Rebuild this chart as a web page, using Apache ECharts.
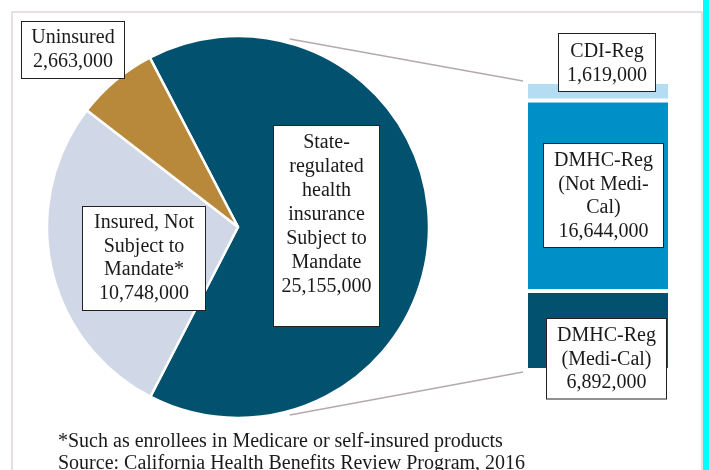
<!DOCTYPE html>
<html><head><meta charset="utf-8">
<script src="https://cdn.jsdelivr.net/npm/echarts@6/dist/echarts.min.js"></script>
<style>html,body{margin:0;padding:0;background:#fff}#c{width:709px;height:470px}</style>
</head><body><div id="c"></div>
<script>
// ---- data ----
const pieNames = ['State-\nregulated\nhealth\ninsurance\nSubject to\nMandate', 'Insured, Not\nSubject to\nMandate*', 'Uninsured'];
const pieValues = [25155000, 10748000, 2663000];
const barNames = ['CDI-Reg', 'DMHC-Reg\n(Not Medi-\nCal)', 'DMHC-Reg\n(Medi-Cal)'];
const barValues = [1619000, 16644000, 6892000];
const footnotes = ['*Such as enrollees in Medicare or self-insured products', 'Source: California Health Benefits Review Program, 2016'];

// ---- styling / layout ----
const pieColors = ['#02516F', '#D0D7E6', '#B8893A'];
const barColors = ['#B4DCF2', '#0090C8', '#02516F'];
const FONT = '"Liberation Serif", "Times New Roman", serif';
const pieCenter = [238, 227], pieRadius = 191;
const grid = {left: 526, top: 82, width: 144, height: 288};
// label boxes: left, top, outer width, padding top/bottom, line height
const pieBoxes = [
  {x: 274, y: 126, w: 105, pt: 5, pb: 27, lh: 24},
  {x: 83, y: 207, w: 122, pt: 4, pb: 5, lh: 23.5},
  {x: 22, y: 22, w: 102, pt: 4, pb: 4, lh: 24}
];
const barBoxes = [
  {x: 559, y: 34, w: 96, pt: 6, pb: 4, lh: 23.5},
  {x: 544, y: 144, w: 119, pt: 5, pb: 4, lh: 23.5},
  {x: 547, y: 319, w: 119, pt: 5, pb: 4, lh: 23.5}
];
const fmt = v => v.toLocaleString('en-US');
function boxLabel(b) {
  return {
    show: true, position: 'inside',
    fontFamily: FONT, fontSize: 20, color: '#1a1a1a',
    lineHeight: b.lh, width: b.w, align: 'center',
    backgroundColor: '#fff', borderColor: '#222', borderWidth: 1,
    padding: [b.pt, 0, b.pb, 0],
    formatter: p => p.name + '\n' + fmt(p.value)
  };
}

const chart = echarts.init(document.getElementById('c'), null, {renderer: 'canvas'});

const barSeries = [2, 1, 0].map(i => ({
  type: 'bar', stack: 'reg', name: barNames[i],
  data: [{name: barNames[i], value: barValues[i]}],
  barWidth: '100%',
  itemStyle: {color: barColors[i], borderColor: '#fff', borderWidth: 2},
  label: boxLabel(barBoxes[i]),
  labelLayout: () => ({x: barBoxes[i].x + barBoxes[i].w / 2, y: barBoxes[i].y, align: 'center', verticalAlign: 'top'}),
  silent: true, z: 3
}));

// connector anchors
const connR = 195, connA = 15.4 * Math.PI / 180;
const pTop = [pieCenter[0] + connR * Math.sin(connA), pieCenter[1] - connR * Math.cos(connA)];
const pBot = [pieCenter[0] + connR * Math.sin(connA), pieCenter[1] + connR * Math.cos(connA)];
const bTop = [grid.left - 3, grid.top - 1];
const bBot = [grid.left - 3, grid.top + grid.height + 2];

chart.setOption({
  animation: false,
  backgroundColor: '#fff',
  grid: grid,
  xAxis: {type: 'category', data: ['Regulated'], show: false},
  yAxis: {type: 'value', min: 0, max: pieValues[0], show: false},
  graphic: [
    {type: 'rect', shape: {x: 12, y: 12, width: 690, height: 480}, style: {fill: 'none', stroke: '#DDD7D7', lineWidth: 1.5}, z: -10, silent: true},
    {type: 'rect', shape: {x: 703, y: 0, width: 6, height: 470}, style: {fill: '#00FFFF'}, z: -10, silent: true},
    {type: 'line', shape: {x1: pTop[0], y1: pTop[1], x2: bTop[0], y2: bTop[1]}, style: {stroke: '#B4AAAC', lineWidth: 1.5}, z: -5, silent: true},
    {type: 'line', shape: {x1: pBot[0], y1: pBot[1], x2: bBot[0], y2: bBot[1]}, style: {stroke: '#B4AAAC', lineWidth: 1.5}, z: -5, silent: true},
    {type: 'text', left: 58, top: 431, style: {text: footnotes.join('\n'), font: '20px ' + FONT, lineHeight: 22, fill: '#1a1a1a'}, silent: true}
  ],
  series: [
    {
      type: 'pie', center: pieCenter, radius: pieRadius, startAngle: 117.5, clockwise: true,
      silent: true, z: 4,
      itemStyle: {borderColor: '#fff', borderWidth: 2.5},
      labelLine: {show: false},
      data: pieNames.map((n, i) => ({
        name: n, value: pieValues[i],
        itemStyle: {color: pieColors[i]},
        label: boxLabel(pieBoxes[i])
      })),
      labelLayout: p => ({x: pieBoxes[p.dataIndex].x + pieBoxes[p.dataIndex].w / 2, y: pieBoxes[p.dataIndex].y, align: 'center', verticalAlign: 'top'})
    },
    ...barSeries
  ]
});
</script>
</body></html>
